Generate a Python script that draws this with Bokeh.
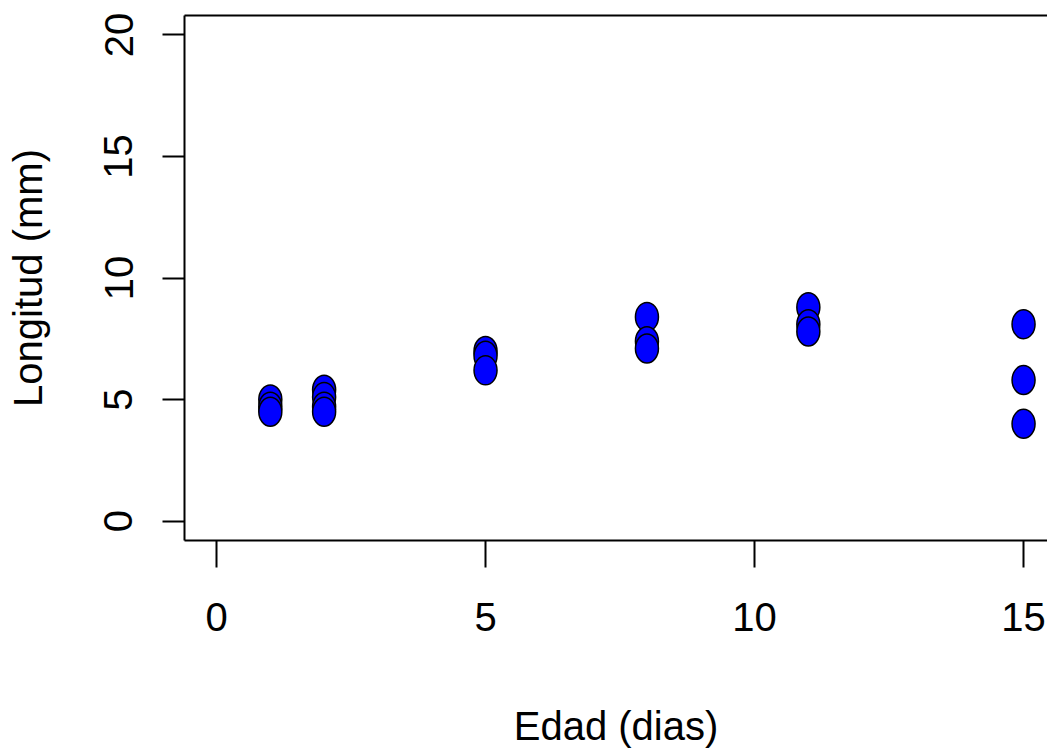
from bokeh.plotting import figure
from bokeh.models import Range1d, FixedTicker, LinearAxis, ColumnDataSource
from bokeh.embed import file_html
from bokeh.resources import INLINE

# Data
edad_dias = [1, 1, 1, 2, 2, 2, 2, 5, 5, 5, 8, 8, 8, 11, 11, 11, 15, 15, 15]
longitud_mm = [5.0, 4.7, 4.5, 5.4, 5.1, 4.7, 4.5, 7.0, 6.8, 6.2, 8.4, 7.4, 7.1, 8.8, 8.1, 7.8, 8.1, 5.8, 4.0]
x_ticks = [0, 5, 10, 15]
y_ticks = [0, 5, 10, 15, 20]
x_title = "Edad (dias)"
y_title = "Longitud (mm)"

FONT = "Liberation Sans"

p = figure(width=1047, height=755, output_backend="svg", toolbar_location=None,
           x_range=Range1d(-0.595, 15.445), y_range=Range1d(-0.8, 20.8),
           min_border_left=184, min_border_right=0, min_border_top=15, min_border_bottom=215,
           x_axis_label=x_title, y_axis_label=y_title)

p.outline_line_color = None
p.xgrid.visible = False
p.ygrid.visible = False
p.background_fill_color = "white"
p.border_fill_color = "white"

xa = p.xaxis[0]
xa.ticker = FixedTicker(ticks=x_ticks)
xa.axis_line_width = 2
xa.axis_line_color = "black"
xa.major_tick_line_width = 2
xa.major_tick_line_color = "black"
xa.major_tick_out = 27
xa.major_tick_in = 0
xa.minor_tick_line_color = None
xa.major_label_text_font = FONT
xa.major_label_text_font_size = "40px"
xa.major_label_text_color = "black"
xa.major_label_standoff = 35
xa.axis_label_text_font = FONT
xa.axis_label_text_font_size = "40px"
xa.axis_label_text_font_style = "normal"
xa.axis_label_text_color = "black"
xa.axis_label_standoff = 70

ya = p.yaxis[0]
ya.ticker = FixedTicker(ticks=y_ticks)
ya.axis_line_width = 2
ya.axis_line_color = "black"
ya.major_tick_line_width = 2
ya.major_tick_line_color = "black"
ya.major_tick_out = 22
ya.major_tick_in = 0
ya.minor_tick_line_color = None
ya.major_label_orientation = "vertical"
ya.major_label_text_font = FONT
ya.major_label_text_font_size = "40px"
ya.major_label_text_color = "black"
ya.major_label_standoff = 30
ya.axis_label_text_font = FONT
ya.axis_label_text_font_size = "40px"
ya.axis_label_text_font_style = "normal"
ya.axis_label_text_color = "black"
ya.axis_label_standoff = 52

top = LinearAxis(ticker=FixedTicker(ticks=[]), major_tick_out=0, major_tick_in=0,
                 minor_tick_line_color=None, major_label_text_font_size="0px",
                 major_label_standoff=0, axis_line_width=2, axis_line_color="black")
p.add_layout(top, "above")

src = ColumnDataSource(data=dict(x=edad_dias, y=longitud_mm))
p.ellipse(x="x", y="y", width=23, height=29, width_units="screen", height_units="screen",
          source=src, fill_color="#0000FF", line_color="black", line_width=1.5)

open("out.html", "w").write(file_html(p, INLINE))
